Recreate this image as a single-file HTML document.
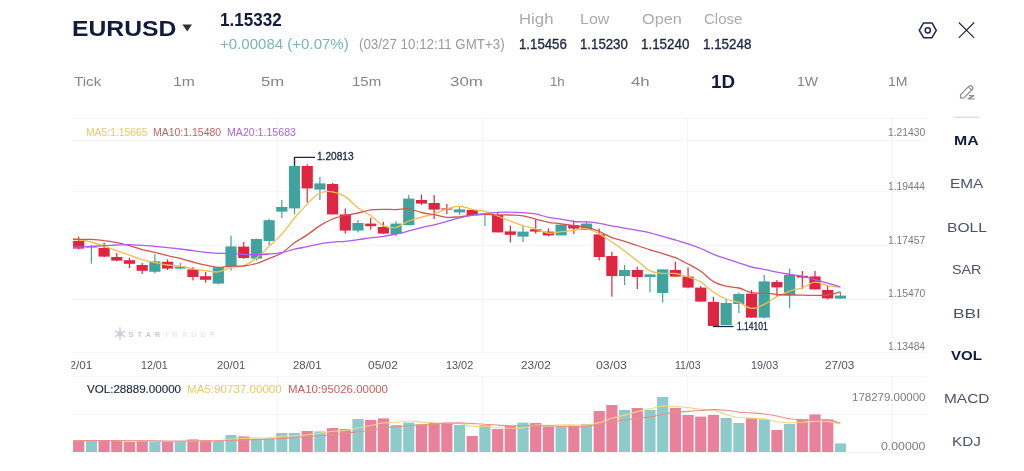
<!DOCTYPE html>
<html lang="en"><head><meta charset="utf-8"><title>EURUSD</title>
<style>
html,body{margin:0;padding:0;background:#fff}
body{width:1024px;height:471px;position:relative;overflow:hidden;font-family:"Liberation Sans",sans-serif}
.t{position:absolute;white-space:nowrap;transform-origin:0 0;margin:0;padding:0}
svg{position:absolute;left:0;top:0}
</style></head><body>

<svg width="1024" height="471" viewBox="0 0 1024 471">
<g stroke="#f5f5f6" stroke-width="1">
<line x1="72" x2="927" y1="118.5" y2="118.5"/>
<line x1="72" x2="927" y1="140.5" y2="140.5"/>
<line x1="72" x2="927" y1="191.5" y2="191.5"/>
<line x1="72" x2="927" y1="245.5" y2="245.5"/>
<line x1="72" x2="927" y1="299.5" y2="299.5"/>
<line x1="72" x2="927" y1="352.5" y2="352.5"/>
<line x1="72" x2="927" y1="376.5" y2="376.5"/>
<line x1="72" x2="927" y1="414.5" y2="414.5"/>
<line x1="72" x2="927" y1="452.5" y2="452.5"/>
<line x1="277.5" x2="277.5" y1="118" y2="352"/>
<line x1="277.5" x2="277.5" y1="376" y2="452"/>
<line x1="482.5" x2="482.5" y1="118" y2="352"/>
<line x1="482.5" x2="482.5" y1="376" y2="452"/>
<line x1="687.5" x2="687.5" y1="118" y2="352"/>
<line x1="687.5" x2="687.5" y1="376" y2="452"/>
<line x1="892.5" x2="892.5" y1="118" y2="352"/>
<line x1="892.5" x2="892.5" y1="376" y2="452"/>
</g>
<rect x="78.10" y="236.6" width="1.2" height="12.8" fill="#DE2640"/>
<rect x="73.10" y="241.0" width="11.2" height="7.6" fill="#DE2640"/>
<rect x="90.80" y="245.0" width="1.2" height="18.6" fill="#40A39D"/>
<rect x="85.80" y="246.4" width="11.2" height="1.2" fill="#40A39D"/>
<rect x="103.49" y="242.6" width="1.2" height="14.4" fill="#DE2640"/>
<rect x="98.49" y="248.0" width="11.2" height="8.6" fill="#DE2640"/>
<rect x="116.19" y="253.0" width="1.2" height="8.0" fill="#DE2640"/>
<rect x="111.19" y="257.0" width="11.2" height="3.6" fill="#DE2640"/>
<rect x="128.88" y="258.0" width="1.2" height="10.0" fill="#DE2640"/>
<rect x="123.88" y="260.2" width="11.2" height="3.6" fill="#DE2640"/>
<rect x="141.58" y="263.0" width="1.2" height="11.0" fill="#DE2640"/>
<rect x="136.58" y="265.0" width="11.2" height="5.8" fill="#DE2640"/>
<rect x="154.27" y="254.0" width="1.2" height="19.4" fill="#40A39D"/>
<rect x="149.27" y="261.4" width="11.2" height="10.4" fill="#40A39D"/>
<rect x="166.97" y="259.4" width="1.2" height="10.6" fill="#DE2640"/>
<rect x="161.97" y="261.8" width="11.2" height="6.8" fill="#DE2640"/>
<rect x="179.66" y="263.0" width="1.2" height="6.4" fill="#40A39D"/>
<rect x="174.66" y="266.6" width="11.2" height="2.0" fill="#40A39D"/>
<rect x="192.35" y="267.0" width="1.2" height="13.4" fill="#DE2640"/>
<rect x="187.35" y="269.4" width="11.2" height="7.6" fill="#DE2640"/>
<rect x="205.05" y="272.0" width="1.2" height="10.6" fill="#DE2640"/>
<rect x="200.05" y="276.2" width="11.2" height="3.6" fill="#DE2640"/>
<rect x="217.75" y="267.4" width="1.2" height="17.0" fill="#40A39D"/>
<rect x="212.75" y="267.4" width="11.2" height="16.2" fill="#40A39D"/>
<rect x="230.44" y="235.6" width="1.2" height="35.0" fill="#40A39D"/>
<rect x="225.44" y="246.4" width="11.2" height="20.2" fill="#40A39D"/>
<rect x="243.14" y="242.0" width="1.2" height="17.0" fill="#DE2640"/>
<rect x="238.14" y="246.6" width="11.2" height="11.4" fill="#DE2640"/>
<rect x="255.83" y="238.6" width="1.2" height="22.0" fill="#40A39D"/>
<rect x="250.83" y="239.0" width="11.2" height="19.6" fill="#40A39D"/>
<rect x="268.52" y="218.8" width="1.2" height="26.2" fill="#40A39D"/>
<rect x="263.52" y="220.2" width="11.2" height="20.8" fill="#40A39D"/>
<rect x="281.22" y="200.0" width="1.2" height="18.0" fill="#40A39D"/>
<rect x="276.22" y="207.0" width="11.2" height="4.6" fill="#40A39D"/>
<rect x="293.91" y="157.0" width="1.2" height="57.4" fill="#40A39D"/>
<rect x="288.91" y="166.0" width="11.2" height="42.4" fill="#40A39D"/>
<rect x="306.61" y="164.4" width="1.2" height="38.0" fill="#DE2640"/>
<rect x="301.61" y="166.0" width="11.2" height="22.4" fill="#DE2640"/>
<rect x="319.31" y="177.0" width="1.2" height="23.0" fill="#40A39D"/>
<rect x="314.31" y="183.4" width="11.2" height="6.2" fill="#40A39D"/>
<rect x="332.00" y="183.0" width="1.2" height="31.4" fill="#DE2640"/>
<rect x="327.00" y="184.0" width="11.2" height="30.4" fill="#DE2640"/>
<rect x="344.69" y="208.4" width="1.2" height="25.2" fill="#DE2640"/>
<rect x="339.69" y="214.4" width="11.2" height="16.2" fill="#DE2640"/>
<rect x="357.39" y="220.0" width="1.2" height="12.4" fill="#40A39D"/>
<rect x="352.39" y="223.0" width="11.2" height="7.6" fill="#40A39D"/>
<rect x="370.08" y="218.0" width="1.2" height="11.6" fill="#DE2640"/>
<rect x="365.08" y="223.6" width="11.2" height="2.6" fill="#DE2640"/>
<rect x="382.78" y="222.0" width="1.2" height="12.0" fill="#DE2640"/>
<rect x="377.78" y="227.0" width="11.2" height="6.6" fill="#DE2640"/>
<rect x="395.47" y="221.0" width="1.2" height="15.0" fill="#40A39D"/>
<rect x="390.47" y="223.6" width="11.2" height="10.4" fill="#40A39D"/>
<rect x="408.17" y="195.0" width="1.2" height="30.2" fill="#40A39D"/>
<rect x="403.17" y="198.6" width="11.2" height="26.6" fill="#40A39D"/>
<rect x="420.86" y="194.4" width="1.2" height="10.6" fill="#DE2640"/>
<rect x="415.86" y="200.0" width="11.2" height="3.6" fill="#DE2640"/>
<rect x="433.56" y="195.0" width="1.2" height="24.0" fill="#DE2640"/>
<rect x="428.56" y="203.0" width="11.2" height="6.6" fill="#DE2640"/>
<rect x="446.25" y="204.0" width="1.2" height="10.0" fill="#DE2640"/>
<rect x="441.25" y="208.4" width="11.2" height="1.2" fill="#DE2640"/>
<rect x="458.95" y="207.0" width="1.2" height="8.0" fill="#40A39D"/>
<rect x="453.95" y="209.4" width="11.2" height="3.0" fill="#40A39D"/>
<rect x="471.64" y="209.0" width="1.2" height="6.0" fill="#DE2640"/>
<rect x="466.64" y="210.0" width="11.2" height="5.0" fill="#DE2640"/>
<rect x="484.34" y="213.6" width="1.2" height="12.4" fill="#40A39D"/>
<rect x="479.34" y="213.6" width="11.2" height="1.0" fill="#40A39D"/>
<rect x="497.03" y="213.0" width="1.2" height="19.4" fill="#DE2640"/>
<rect x="492.03" y="215.0" width="11.2" height="17.4" fill="#DE2640"/>
<rect x="509.73" y="225.6" width="1.2" height="16.8" fill="#DE2640"/>
<rect x="504.73" y="231.4" width="11.2" height="3.4" fill="#DE2640"/>
<rect x="522.42" y="226.0" width="1.2" height="16.0" fill="#40A39D"/>
<rect x="517.42" y="231.6" width="11.2" height="5.0" fill="#40A39D"/>
<rect x="535.12" y="219.6" width="1.2" height="14.0" fill="#DE2640"/>
<rect x="530.12" y="229.2" width="11.2" height="2.4" fill="#DE2640"/>
<rect x="547.82" y="228.4" width="1.2" height="8.0" fill="#DE2640"/>
<rect x="542.82" y="231.6" width="11.2" height="3.8" fill="#DE2640"/>
<rect x="560.51" y="224.6" width="1.2" height="10.8" fill="#40A39D"/>
<rect x="555.51" y="224.6" width="11.2" height="10.8" fill="#40A39D"/>
<rect x="573.21" y="220.4" width="1.2" height="13.6" fill="#DE2640"/>
<rect x="568.21" y="225.0" width="11.2" height="3.6" fill="#DE2640"/>
<rect x="585.90" y="221.0" width="1.2" height="9.0" fill="#40A39D"/>
<rect x="580.90" y="223.6" width="11.2" height="6.4" fill="#40A39D"/>
<rect x="598.60" y="228.6" width="1.2" height="31.8" fill="#DE2640"/>
<rect x="593.60" y="234.4" width="11.2" height="22.6" fill="#DE2640"/>
<rect x="611.29" y="251.6" width="1.2" height="45.0" fill="#DE2640"/>
<rect x="606.29" y="256.0" width="11.2" height="20.0" fill="#DE2640"/>
<rect x="623.99" y="265.0" width="1.2" height="20.0" fill="#40A39D"/>
<rect x="618.99" y="270.0" width="11.2" height="6.0" fill="#40A39D"/>
<rect x="636.68" y="266.6" width="1.2" height="22.4" fill="#DE2640"/>
<rect x="631.68" y="270.0" width="11.2" height="7.0" fill="#DE2640"/>
<rect x="649.38" y="274.4" width="1.2" height="18.0" fill="#40A39D"/>
<rect x="644.38" y="274.4" width="11.2" height="2.6" fill="#40A39D"/>
<rect x="662.07" y="269.4" width="1.2" height="33.0" fill="#40A39D"/>
<rect x="657.07" y="269.4" width="11.2" height="23.6" fill="#40A39D"/>
<rect x="674.76" y="261.6" width="1.2" height="15.0" fill="#DE2640"/>
<rect x="669.76" y="270.0" width="11.2" height="6.6" fill="#DE2640"/>
<rect x="687.46" y="267.4" width="1.2" height="21.0" fill="#DE2640"/>
<rect x="682.46" y="276.6" width="11.2" height="11.0" fill="#DE2640"/>
<rect x="700.16" y="286.0" width="1.2" height="15.6" fill="#DE2640"/>
<rect x="695.16" y="287.6" width="11.2" height="14.0" fill="#DE2640"/>
<rect x="712.85" y="297.0" width="1.2" height="29.4" fill="#DE2640"/>
<rect x="707.85" y="302.0" width="11.2" height="24.0" fill="#DE2640"/>
<rect x="725.55" y="299.0" width="1.2" height="26.0" fill="#40A39D"/>
<rect x="720.55" y="303.0" width="11.2" height="22.0" fill="#40A39D"/>
<rect x="738.24" y="292.4" width="1.2" height="20.6" fill="#40A39D"/>
<rect x="733.24" y="294.0" width="11.2" height="10.0" fill="#40A39D"/>
<rect x="750.94" y="290.0" width="1.2" height="27.6" fill="#DE2640"/>
<rect x="745.94" y="293.6" width="11.2" height="24.0" fill="#DE2640"/>
<rect x="763.63" y="275.0" width="1.2" height="43.4" fill="#40A39D"/>
<rect x="758.63" y="281.4" width="11.2" height="36.2" fill="#40A39D"/>
<rect x="776.33" y="280.0" width="1.2" height="17.0" fill="#DE2640"/>
<rect x="771.33" y="282.0" width="11.2" height="5.4" fill="#DE2640"/>
<rect x="789.02" y="268.6" width="1.2" height="39.8" fill="#40A39D"/>
<rect x="784.02" y="275.0" width="11.2" height="20.0" fill="#40A39D"/>
<rect x="801.72" y="271.0" width="1.2" height="18.0" fill="#DE2640"/>
<rect x="796.72" y="275.8" width="11.2" height="1.8" fill="#DE2640"/>
<rect x="814.41" y="271.0" width="1.2" height="18.4" fill="#DE2640"/>
<rect x="809.41" y="276.4" width="11.2" height="13.0" fill="#DE2640"/>
<rect x="827.11" y="286.0" width="1.2" height="13.4" fill="#DE2640"/>
<rect x="822.11" y="290.0" width="11.2" height="8.4" fill="#DE2640"/>
<rect x="839.80" y="292.0" width="1.2" height="6.6" fill="#40A39D"/>
<rect x="834.80" y="295.6" width="11.2" height="3.0" fill="#40A39D"/>
<path d="M73.0 238.4C74.0 238.6 75.6 238.9 78.7 239.5C81.8 240.1 87.2 240.9 91.4 242.0C95.6 243.1 99.9 244.7 104.1 246.1C108.3 247.6 112.6 249.1 116.8 250.6C121.0 252.2 125.2 253.7 129.5 255.2C133.7 256.7 137.9 258.4 142.2 259.6C146.4 260.9 150.6 261.7 154.9 262.6C159.1 263.5 163.3 264.4 167.6 265.0C171.8 265.6 176.0 265.6 180.3 266.2C184.5 266.9 188.7 268.1 193.0 268.9C197.2 269.6 201.4 270.2 205.7 270.7C209.9 271.2 214.1 272.4 218.3 271.9C222.6 271.3 226.8 268.5 231.0 267.4C235.3 266.4 239.5 267.3 243.7 265.7C248.0 264.2 252.2 261.4 256.4 258.1C260.7 254.9 264.9 250.2 269.1 246.2C273.4 242.2 277.6 238.8 281.8 234.1C286.1 229.4 290.3 223.0 294.5 218.0C298.7 213.0 303.0 208.3 307.2 204.1C311.4 199.9 315.7 195.0 319.9 193.0C324.1 191.0 328.4 191.2 332.6 191.8C336.8 192.4 341.1 193.9 345.3 196.6C349.5 199.2 353.8 204.8 358.0 208.0C362.2 211.1 366.5 212.6 370.7 215.5C374.9 218.5 379.1 223.6 383.4 225.6C387.6 227.5 391.8 228.2 396.1 227.4C400.3 226.6 404.5 222.7 408.8 221.0C413.0 219.3 417.2 218.3 421.5 217.1C425.7 215.9 429.9 215.2 434.2 213.8C438.4 212.4 442.6 210.3 446.9 209.0C451.1 207.7 455.3 206.1 459.6 206.2C463.8 206.2 468.0 208.6 472.2 209.4C476.5 210.3 480.7 210.3 484.9 211.4C489.2 212.5 493.4 214.4 497.6 216.0C501.9 217.6 506.1 219.5 510.3 221.0C514.6 222.6 518.8 224.2 523.0 225.5C527.3 226.8 531.5 227.5 535.7 228.8C540.0 230.1 544.2 232.7 548.4 233.2C552.6 233.6 556.9 232.1 561.1 231.6C565.3 231.1 569.6 230.8 573.8 230.4C578.0 229.9 582.3 228.2 586.5 228.8C590.7 229.3 595.0 231.6 599.2 233.8C603.4 236.0 607.7 239.1 611.9 242.0C616.1 244.8 620.4 247.9 624.6 251.0C628.8 254.2 633.0 257.4 637.3 260.7C641.5 264.0 645.7 268.8 650.0 270.9C654.2 273.0 658.4 272.9 662.7 273.4C666.9 273.8 671.1 272.9 675.4 273.5C679.6 274.1 683.8 275.6 688.1 277.0C692.3 278.4 696.5 279.4 700.8 281.9C705.0 284.5 709.2 289.4 713.5 292.2C717.7 295.1 721.9 297.3 726.1 299.0C730.4 300.7 734.6 300.9 738.8 302.4C743.1 304.0 747.3 308.1 751.5 308.4C755.8 308.8 760.0 306.4 764.2 304.4C768.5 302.4 772.7 298.9 776.9 296.7C781.2 294.5 785.4 292.6 789.6 291.1C793.9 289.6 798.1 289.3 802.3 287.8C806.5 286.3 810.8 282.5 815.0 282.2C819.2 281.8 823.5 284.7 827.7 285.6C831.9 286.4 838.3 286.9 840.4 287.2" fill="none" stroke="#F3BE4B" stroke-width="1.3" stroke-linejoin="round"/>
<path d="M73.0 239.5C74.0 239.5 75.6 239.5 78.7 239.5C81.8 239.4 87.2 239.2 91.4 239.4C95.6 239.6 99.9 240.0 104.1 240.6C108.3 241.1 112.6 241.8 116.8 242.6C121.0 243.5 125.2 244.4 129.5 245.6C133.7 246.8 137.9 248.5 142.2 249.6C146.4 250.7 150.6 251.3 154.9 252.3C159.1 253.3 163.3 254.6 167.6 255.6C171.8 256.6 176.0 257.4 180.3 258.4C184.5 259.5 188.7 260.9 193.0 262.0C197.2 263.2 201.4 264.3 205.7 265.2C209.9 266.0 214.1 267.1 218.3 267.3C222.6 267.4 226.8 266.5 231.0 266.2C235.3 266.0 239.5 266.4 243.7 266.0C248.0 265.5 252.2 264.8 256.4 263.5C260.7 262.2 264.9 260.2 269.1 258.4C273.4 256.7 277.6 255.6 281.8 253.0C286.1 250.4 290.3 245.8 294.5 242.7C298.7 239.7 303.0 237.8 307.2 234.9C311.4 232.1 315.7 228.2 319.9 225.6C324.1 222.9 328.4 220.7 332.6 219.0C336.8 217.3 341.1 216.3 345.3 215.3C349.5 214.3 353.8 213.9 358.0 213.0C362.2 212.1 366.5 210.4 370.7 209.8C374.9 209.2 379.1 209.3 383.4 209.3C387.6 209.2 391.8 209.7 396.1 209.6C400.3 209.5 404.5 208.3 408.8 208.8C413.0 209.3 417.2 211.6 421.5 212.5C425.7 213.5 429.9 213.9 434.2 214.7C438.4 215.4 442.6 216.9 446.9 217.3C451.1 217.6 455.3 217.1 459.6 216.8C463.8 216.4 468.0 215.6 472.2 215.2C476.5 214.8 480.7 214.3 484.9 214.3C489.2 214.2 493.4 214.8 497.6 214.9C501.9 215.0 506.1 214.9 510.3 215.0C514.6 215.2 518.8 215.1 523.0 215.8C527.3 216.5 531.5 218.0 535.7 219.1C540.0 220.2 544.2 221.5 548.4 222.3C552.6 223.1 556.9 223.2 561.1 223.8C565.3 224.4 569.6 225.1 573.8 225.7C578.0 226.3 582.3 226.2 586.5 227.1C590.7 228.1 595.0 229.6 599.2 231.3C603.4 233.1 607.7 235.9 611.9 237.6C616.1 239.2 620.4 240.0 624.6 241.3C628.8 242.6 633.0 244.1 637.3 245.5C641.5 247.0 645.7 248.5 650.0 249.8C654.2 251.2 658.4 252.3 662.7 253.6C666.9 254.9 671.1 256.0 675.4 257.7C679.6 259.5 683.8 261.8 688.1 264.0C692.3 266.3 696.5 268.4 700.8 271.3C705.0 274.2 709.2 279.1 713.5 281.6C717.7 284.0 721.9 285.1 726.1 286.2C730.4 287.2 734.6 286.9 738.8 288.0C743.1 289.1 747.3 291.9 751.5 292.7C755.8 293.6 760.0 292.9 764.2 293.2C768.5 293.4 772.7 294.1 776.9 294.5C781.2 294.8 785.4 294.9 789.6 295.0C793.9 295.1 798.1 295.1 802.3 295.1C806.5 295.2 810.8 295.3 815.0 295.3C819.2 295.3 823.5 295.5 827.7 295.0C831.9 294.4 838.3 292.4 840.4 291.9" fill="none" stroke="#D2554F" stroke-width="1.3" stroke-linejoin="round"/>
<path d="M73.0 247.3C74.0 247.2 75.6 247.1 78.7 247.0C81.8 246.9 87.2 246.6 91.4 246.4C95.6 246.2 99.9 245.8 104.1 245.6C108.3 245.4 112.6 245.2 116.8 245.0C121.0 244.8 125.2 244.5 129.5 244.6C133.7 244.7 137.9 245.1 142.2 245.4C146.4 245.7 150.6 246.0 154.9 246.4C159.1 246.8 163.3 247.2 167.6 247.6C171.8 248.0 176.0 248.5 180.3 249.0C184.5 249.5 188.7 250.0 193.0 250.6C197.2 251.2 201.4 251.9 205.7 252.3C209.9 252.8 214.1 253.1 218.3 253.3C222.6 253.5 226.8 253.2 231.0 253.4C235.3 253.6 239.5 254.1 243.7 254.3C248.0 254.5 252.2 254.6 256.4 254.6C260.7 254.5 264.9 254.3 269.1 254.0C273.4 253.7 277.6 253.5 281.8 252.7C286.1 251.9 290.3 250.2 294.5 249.2C298.7 248.2 303.0 247.6 307.2 246.7C311.4 245.8 315.7 244.6 319.9 243.8C324.1 243.0 328.4 242.5 332.6 242.1C336.8 241.7 341.1 241.7 345.3 241.3C349.5 240.9 353.8 240.2 358.0 239.6C362.2 239.1 366.5 238.4 370.7 237.9C374.9 237.4 379.1 237.0 383.4 236.4C387.6 235.7 391.8 234.9 396.1 234.0C400.3 233.1 404.5 232.0 408.8 230.9C413.0 229.8 417.2 228.7 421.5 227.6C425.7 226.6 429.9 225.8 434.2 224.8C438.4 223.8 442.6 222.6 446.9 221.4C451.1 220.3 455.3 218.9 459.6 217.9C463.8 216.9 468.0 216.0 472.2 215.3C476.5 214.6 480.7 214.1 484.9 213.6C489.2 213.2 493.4 212.6 497.6 212.4C501.9 212.1 506.1 212.1 510.3 212.2C514.6 212.2 518.8 212.4 523.0 212.7C527.3 213.0 531.5 213.2 535.7 213.9C540.0 214.7 544.2 216.5 548.4 217.4C552.6 218.3 556.9 218.6 561.1 219.2C565.3 219.9 569.6 221.0 573.8 221.5C578.0 221.9 582.3 221.7 586.5 221.9C590.7 222.2 595.0 222.6 599.2 223.3C603.4 223.9 607.7 225.1 611.9 225.9C616.1 226.7 620.4 227.4 624.6 228.1C628.8 228.8 633.0 229.5 637.3 230.3C641.5 231.1 645.7 231.8 650.0 232.8C654.2 233.8 658.4 235.2 662.7 236.4C666.9 237.6 671.1 238.8 675.4 240.0C679.6 241.3 683.8 242.5 688.1 243.9C692.3 245.3 696.5 246.8 700.8 248.5C705.0 250.2 709.2 252.6 713.5 254.3C717.7 256.0 721.9 257.3 726.1 258.7C730.4 260.1 734.6 261.4 738.8 262.8C743.1 264.1 747.3 265.9 751.5 267.0C755.8 268.1 760.0 268.5 764.2 269.4C768.5 270.2 772.7 271.3 776.9 272.1C781.2 273.0 785.4 273.6 789.6 274.3C793.9 275.0 798.1 275.5 802.3 276.4C806.5 277.3 810.8 278.5 815.0 279.7C819.2 280.8 823.5 282.0 827.7 283.1C831.9 284.3 838.3 286.1 840.4 286.8" fill="none" stroke="#B05AEE" stroke-width="1.3" stroke-linejoin="round"/>
<path d="M294.5 166V157.3H315" fill="none" stroke="#1c2542" stroke-width="1.3"/>
<path d="M713.0 326.5H733.5" fill="none" stroke="#1c2542" stroke-width="1.3"/>
<rect x="73.10" y="441.0" width="11.2" height="11.0" fill="#E9819B"/>
<rect x="85.80" y="440.0" width="11.2" height="12.0" fill="#8DCBCB"/>
<rect x="98.49" y="440.6" width="11.2" height="11.4" fill="#E9819B"/>
<rect x="111.19" y="441.0" width="11.2" height="11.0" fill="#E9819B"/>
<rect x="123.88" y="442.0" width="11.2" height="10.0" fill="#E9819B"/>
<rect x="136.58" y="441.0" width="11.2" height="11.0" fill="#E9819B"/>
<rect x="149.27" y="442.0" width="11.2" height="10.0" fill="#8DCBCB"/>
<rect x="161.97" y="441.4" width="11.2" height="10.6" fill="#E9819B"/>
<rect x="174.66" y="441.4" width="11.2" height="10.6" fill="#8DCBCB"/>
<rect x="187.35" y="439.4" width="11.2" height="12.6" fill="#E9819B"/>
<rect x="200.05" y="440.0" width="11.2" height="12.0" fill="#E9819B"/>
<rect x="212.75" y="440.6" width="11.2" height="11.4" fill="#8DCBCB"/>
<rect x="225.44" y="435.0" width="11.2" height="17.0" fill="#8DCBCB"/>
<rect x="238.14" y="436.4" width="11.2" height="15.6" fill="#E9819B"/>
<rect x="250.83" y="438.6" width="11.2" height="13.4" fill="#8DCBCB"/>
<rect x="263.52" y="438.3" width="11.2" height="13.7" fill="#8DCBCB"/>
<rect x="276.22" y="433.0" width="11.2" height="19.0" fill="#8DCBCB"/>
<rect x="288.91" y="433.0" width="11.2" height="19.0" fill="#8DCBCB"/>
<rect x="301.61" y="431.0" width="11.2" height="21.0" fill="#E9819B"/>
<rect x="314.31" y="431.4" width="11.2" height="20.6" fill="#8DCBCB"/>
<rect x="327.00" y="428.0" width="11.2" height="24.0" fill="#E9819B"/>
<rect x="339.69" y="429.0" width="11.2" height="23.0" fill="#E9819B"/>
<rect x="352.39" y="419.0" width="11.2" height="33.0" fill="#8DCBCB"/>
<rect x="365.08" y="420.0" width="11.2" height="32.0" fill="#E9819B"/>
<rect x="377.78" y="418.4" width="11.2" height="33.6" fill="#E9819B"/>
<rect x="390.47" y="425.0" width="11.2" height="27.0" fill="#8DCBCB"/>
<rect x="403.17" y="422.6" width="11.2" height="29.4" fill="#8DCBCB"/>
<rect x="415.86" y="424.4" width="11.2" height="27.6" fill="#E9819B"/>
<rect x="428.56" y="423.0" width="11.2" height="29.0" fill="#E9819B"/>
<rect x="441.25" y="422.6" width="11.2" height="29.4" fill="#E9819B"/>
<rect x="453.95" y="425.0" width="11.2" height="27.0" fill="#8DCBCB"/>
<rect x="466.64" y="436.0" width="11.2" height="16.0" fill="#E9819B"/>
<rect x="479.34" y="425.0" width="11.2" height="27.0" fill="#8DCBCB"/>
<rect x="492.03" y="429.0" width="11.2" height="23.0" fill="#E9819B"/>
<rect x="504.73" y="426.0" width="11.2" height="26.0" fill="#E9819B"/>
<rect x="517.42" y="422.6" width="11.2" height="29.4" fill="#8DCBCB"/>
<rect x="530.12" y="423.0" width="11.2" height="29.0" fill="#E9819B"/>
<rect x="542.82" y="426.6" width="11.2" height="25.4" fill="#E9819B"/>
<rect x="555.51" y="426.0" width="11.2" height="26.0" fill="#8DCBCB"/>
<rect x="568.21" y="425.6" width="11.2" height="26.4" fill="#E9819B"/>
<rect x="580.90" y="424.0" width="11.2" height="28.0" fill="#8DCBCB"/>
<rect x="593.60" y="411.0" width="11.2" height="41.0" fill="#E9819B"/>
<rect x="606.29" y="405.0" width="11.2" height="47.0" fill="#E9819B"/>
<rect x="618.99" y="410.0" width="11.2" height="42.0" fill="#8DCBCB"/>
<rect x="631.68" y="408.0" width="11.2" height="44.0" fill="#E9819B"/>
<rect x="644.38" y="410.0" width="11.2" height="42.0" fill="#8DCBCB"/>
<rect x="657.07" y="397.0" width="11.2" height="55.0" fill="#8DCBCB"/>
<rect x="669.76" y="408.0" width="11.2" height="44.0" fill="#E9819B"/>
<rect x="682.46" y="415.0" width="11.2" height="37.0" fill="#E9819B"/>
<rect x="695.16" y="416.6" width="11.2" height="35.4" fill="#E9819B"/>
<rect x="707.85" y="415.0" width="11.2" height="37.0" fill="#E9819B"/>
<rect x="720.55" y="418.0" width="11.2" height="34.0" fill="#8DCBCB"/>
<rect x="733.24" y="423.0" width="11.2" height="29.0" fill="#8DCBCB"/>
<rect x="745.94" y="418.0" width="11.2" height="34.0" fill="#E9819B"/>
<rect x="758.63" y="419.4" width="11.2" height="32.6" fill="#8DCBCB"/>
<rect x="771.33" y="430.0" width="11.2" height="22.0" fill="#E9819B"/>
<rect x="784.02" y="424.0" width="11.2" height="28.0" fill="#8DCBCB"/>
<rect x="796.72" y="419.4" width="11.2" height="32.6" fill="#E9819B"/>
<rect x="809.41" y="414.4" width="11.2" height="37.6" fill="#E9819B"/>
<rect x="822.11" y="419.4" width="11.2" height="32.6" fill="#E9819B"/>
<rect x="834.80" y="443.4" width="11.2" height="8.6" fill="#8DCBCB"/>
<path d="M73.0 440.6C74.0 440.6 75.6 440.6 78.7 440.6C81.8 440.6 87.2 440.5 91.4 440.5C95.6 440.5 99.9 440.5 104.1 440.5C108.3 440.5 112.6 440.6 116.8 440.6C121.0 440.7 125.2 440.9 129.5 440.9C133.7 441.0 137.9 440.9 142.2 440.9C146.4 441.0 150.6 441.2 154.9 441.3C159.1 441.4 163.3 441.4 167.6 441.5C171.8 441.5 176.0 441.6 180.3 441.6C184.5 441.5 188.7 441.2 193.0 441.0C197.2 440.9 201.4 440.9 205.7 440.8C209.9 440.8 214.1 440.8 218.3 440.6C222.6 440.3 226.8 439.7 231.0 439.3C235.3 438.9 239.5 438.5 243.7 438.3C248.0 438.1 252.2 438.2 256.4 438.1C260.7 438.0 264.9 438.1 269.1 437.8C273.4 437.5 277.6 436.6 281.8 436.3C286.1 435.9 290.3 436.1 294.5 435.9C298.7 435.6 303.0 435.2 307.2 434.8C311.4 434.4 315.7 433.9 319.9 433.3C324.1 432.8 328.4 431.8 332.6 431.3C336.8 430.8 341.1 431.1 345.3 430.5C349.5 429.9 353.8 428.5 358.0 427.7C362.2 426.8 366.5 426.3 370.7 425.5C374.9 424.7 379.1 423.4 383.4 422.9C387.6 422.3 391.8 422.6 396.1 422.3C400.3 422.0 404.5 421.0 408.8 421.0C413.0 421.0 417.2 421.8 421.5 422.1C425.7 422.4 429.9 422.4 434.2 422.7C438.4 422.9 442.6 423.4 446.9 423.5C451.1 423.7 455.3 423.1 459.6 423.5C463.8 424.0 468.0 425.7 472.2 426.2C476.5 426.7 480.7 426.1 484.9 426.3C489.2 426.5 493.4 427.2 497.6 427.5C501.9 427.8 506.1 428.2 510.3 428.2C514.6 428.2 518.8 428.2 523.0 427.7C527.3 427.2 531.5 425.5 535.7 425.1C540.0 424.7 544.2 425.5 548.4 425.4C552.6 425.4 556.9 425.0 561.1 424.8C565.3 424.7 569.6 424.7 573.8 424.8C578.0 424.8 582.3 425.4 586.5 425.0C590.7 424.7 595.0 423.8 599.2 422.6C603.4 421.5 607.7 419.6 611.9 418.3C616.1 417.1 620.4 416.2 624.6 415.1C628.8 414.0 633.0 412.7 637.3 411.6C641.5 410.5 645.7 409.7 650.0 408.8C654.2 407.9 658.4 406.4 662.7 406.0C666.9 405.6 671.1 406.3 675.4 406.6C679.6 406.9 683.8 407.1 688.1 407.6C692.3 408.1 696.5 408.9 700.8 409.3C705.0 409.8 709.2 409.5 713.5 410.3C717.7 411.2 721.9 413.3 726.1 414.5C730.4 415.7 734.6 416.9 738.8 417.5C743.1 418.1 747.3 417.9 751.5 418.1C755.8 418.3 760.0 418.1 764.2 418.7C768.5 419.3 772.7 421.0 776.9 421.7C781.2 422.4 785.4 422.8 789.6 422.9C793.9 423.0 798.1 422.4 802.3 422.2C806.5 421.9 810.8 421.6 815.0 421.4C819.2 421.3 823.5 421.0 827.7 421.4C831.9 421.9 838.3 423.7 840.4 424.1" fill="none" stroke="#F5D588" stroke-width="1.1" stroke-linejoin="round"/>
<path d="M73.0 440.6C74.0 440.6 75.6 440.6 78.7 440.6C81.8 440.5 87.2 440.5 91.4 440.5C95.6 440.5 99.9 440.5 104.1 440.5C108.3 440.5 112.6 440.5 116.8 440.6C121.0 440.6 125.2 440.7 129.5 440.7C133.7 440.7 137.9 440.7 142.2 440.8C146.4 440.8 150.6 440.9 154.9 440.9C159.1 441.0 163.3 441.0 167.6 441.0C171.8 441.0 176.0 441.1 180.3 441.1C184.5 441.1 188.7 441.0 193.0 441.0C197.2 440.9 201.4 440.9 205.7 440.9C209.9 440.9 214.1 441.0 218.3 440.9C222.6 440.9 226.8 440.6 231.0 440.4C235.3 440.2 239.5 440.1 243.7 439.9C248.0 439.8 252.2 439.7 256.4 439.6C260.7 439.5 264.9 439.5 269.1 439.3C273.4 439.1 277.6 438.7 281.8 438.4C286.1 438.1 290.3 437.9 294.5 437.6C298.7 437.3 303.0 436.8 307.2 436.5C311.4 436.2 315.7 436.1 319.9 435.7C324.1 435.4 328.4 434.9 332.6 434.5C336.8 434.1 341.1 433.8 345.3 433.4C349.5 432.9 353.8 432.3 358.0 431.8C362.2 431.2 366.5 430.7 370.7 430.1C374.9 429.5 379.1 428.7 383.4 428.1C387.6 427.6 391.8 427.2 396.1 426.8C400.3 426.4 404.5 426.1 408.8 425.7C413.0 425.4 417.2 425.2 421.5 424.9C425.7 424.6 429.9 424.4 434.2 424.1C438.4 423.8 442.6 423.4 446.9 423.2C451.1 423.0 455.3 422.8 459.6 422.9C463.8 423.0 468.0 423.4 472.2 423.6C476.5 423.8 480.7 423.9 484.9 424.2C489.2 424.4 493.4 424.8 497.6 425.1C501.9 425.4 506.1 425.8 510.3 425.9C514.6 425.9 518.8 425.7 523.0 425.6C527.3 425.6 531.5 425.6 535.7 425.7C540.0 425.7 544.2 425.8 548.4 425.9C552.6 426.0 556.9 426.1 561.1 426.2C565.3 426.3 569.6 426.4 573.8 426.5C578.0 426.5 582.3 426.8 586.5 426.4C590.7 425.9 595.0 424.6 599.2 423.9C603.4 423.1 607.7 422.5 611.9 421.9C616.1 421.2 620.4 420.6 624.6 420.0C628.8 419.4 633.0 418.7 637.3 418.2C641.5 417.7 645.7 417.6 650.0 416.9C654.2 416.3 658.4 415.1 662.7 414.3C666.9 413.6 671.1 413.0 675.4 412.5C679.6 412.0 683.8 411.7 688.1 411.4C692.3 411.0 696.5 410.8 700.8 410.5C705.0 410.2 709.2 409.6 713.5 409.6C717.7 409.5 721.9 409.8 726.1 410.3C730.4 410.7 734.6 411.6 738.8 412.1C743.1 412.5 747.3 412.5 751.5 412.9C755.8 413.2 760.0 413.5 764.2 414.0C768.5 414.5 772.7 415.2 776.9 416.0C781.2 416.8 785.4 418.1 789.6 418.7C793.9 419.3 798.1 419.7 802.3 419.8C806.5 420.0 810.8 419.7 815.0 419.8C819.2 419.8 823.5 419.5 827.7 420.1C831.9 420.6 838.3 422.4 840.4 422.9" fill="none" stroke="#E4918A" stroke-width="1.1" stroke-linejoin="round"/>

<g fill="#bcc3cd"><circle cx="120" cy="333.8" r="2.7"/><g stroke="#cdd2da" stroke-width="1.4" stroke-linecap="round"><path d="M120 327.8v12M115.2 331l9.6 5.6M115.2 336.6l9.6-5.6"/></g></g>
<text x="128.6" y="336.8" font-size="7.6" font-weight="700" fill="#c6cad2" textLength="31.7" lengthAdjust="spacing">STAR</text>
<text x="164" y="336.8" font-size="7.6" fill="#dfe1e6" textLength="51" lengthAdjust="spacing">TRADER</text>
<g fill="none" stroke="#1c2542" stroke-width="1.5" stroke-linejoin="round"><path d="M923.6 22.9h8.4l4.3 7.4-4.3 7.4h-8.4l-4.3-7.4z"/><circle cx="927.8" cy="30.3" r="2.6"/></g>
<path d="M958.8 22.5l15.4 15.4M974.2 22.5l-15.4 15.4" stroke="#1c2542" stroke-width="1.1" fill="none"/>
<path d="M953.8 117.2H979.2" stroke="#c9ccd2" stroke-width="1"/>
<g fill="none" stroke="#8b909c" stroke-width="1.3" stroke-linejoin="round" stroke-linecap="round"><path d="M960.6 98.2v-3.6l8.2-8.2a2.3 2.3 0 0 1 3.3 3.3l-8.2 8.2z"/><path d="M968.6 87.2l3.2 3.2" stroke-width="1.1"/><path d="M969.4 95.6H974L968 98.9H974" stroke-width="1.3"/></g>
<path d="M182.4 24.6h9.6l-4.8 7z" fill="#2f3136"/>
</svg>

<div class="t" id="t0" style="left:72.35px;top:15px;font-size:22.5px;line-height:27px;font-weight:700;color:#111b3b;transform:scaleX(1.0984)">EURUSD</div>
<div class="t" id="t1" style="left:220.02px;top:10px;font-size:17.5px;line-height:21px;font-weight:700;color:#111b3b;transform:scaleX(0.9756)">1.15332</div>
<div class="t" id="t2" style="left:220.19px;top:36px;font-size:14px;line-height:17px;font-weight:400;color:#78baa8;transform:scaleX(1.0740)">+0.00084 (+0.07%)</div>
<div class="t" id="t3" style="left:358.74px;top:36px;font-size:14px;line-height:17px;font-weight:400;color:#9a9a9e;transform:scaleX(0.9539)">(03/27 10:12:11 GMT+3)</div>
<div class="t" id="t4" style="left:518.50px;top:11px;font-size:14px;line-height:17px;font-weight:400;color:#a9abb0;transform:scaleX(1.1963)">High</div>
<div class="t" id="t5" style="left:518.56px;top:36px;font-size:14px;line-height:17px;font-weight:400;color:#1e2742;transform:scaleX(0.9442);-webkit-text-stroke:0.35px #1e2742">1.15456</div>
<div class="t" id="t6" style="left:579.57px;top:11px;font-size:14px;line-height:17px;font-weight:400;color:#a9abb0;transform:scaleX(1.1429)">Low</div>
<div class="t" id="t7" style="left:579.56px;top:36px;font-size:14px;line-height:17px;font-weight:400;color:#1e2742;transform:scaleX(0.9442);-webkit-text-stroke:0.35px #1e2742">1.15230</div>
<div class="t" id="t8" style="left:641.70px;top:11px;font-size:14px;line-height:17px;font-weight:400;color:#a9abb0;transform:scaleX(1.1603)">Open</div>
<div class="t" id="t9" style="left:641.09px;top:36px;font-size:14px;line-height:17px;font-weight:400;color:#1e2742;transform:scaleX(0.9563);-webkit-text-stroke:0.35px #1e2742">1.15240</div>
<div class="t" id="t10" style="left:703.76px;top:11px;font-size:14px;line-height:17px;font-weight:400;color:#a9abb0;transform:scaleX(1.0725)">Close</div>
<div class="t" id="t11" style="left:703.09px;top:36px;font-size:14px;line-height:17px;font-weight:400;color:#1e2742;transform:scaleX(0.9563);-webkit-text-stroke:0.35px #1e2742">1.15248</div>
<div class="t" id="t12" style="left:73.72px;top:74px;font-size:13.5px;line-height:16px;font-weight:400;color:#858589;transform:scaleX(1.1250)">Tick</div>
<div class="t" id="t13" style="left:173.34px;top:74px;font-size:13.5px;line-height:16px;font-weight:400;color:#858589;transform:scaleX(1.1642)">1m</div>
<div class="t" id="t14" style="left:260.79px;top:74px;font-size:13.5px;line-height:16px;font-weight:400;color:#858589;transform:scaleX(1.2406)">5m</div>
<div class="t" id="t15" style="left:351.89px;top:74px;font-size:13.5px;line-height:16px;font-weight:400;color:#858589;transform:scaleX(1.1134)">15m</div>
<div class="t" id="t16" style="left:450.37px;top:74px;font-size:13.5px;line-height:16px;font-weight:400;color:#858589;transform:scaleX(1.2525)">30m</div>
<div class="t" id="t17" style="left:550.02px;top:74px;font-size:13.5px;line-height:16px;font-weight:400;color:#858589;transform:scaleX(0.9811)">1h</div>
<div class="t" id="t18" style="left:630.69px;top:74px;font-size:13.5px;line-height:16px;font-weight:400;color:#858589;transform:scaleX(1.2429)">4h</div>
<div class="t" id="t19" style="left:796.96px;top:74px;font-size:13.5px;line-height:16px;font-weight:400;color:#858589;transform:scaleX(1.0390)">1W</div>
<div class="t" id="t20" style="left:888.25px;top:74px;font-size:13.5px;line-height:16px;font-weight:400;color:#858589;transform:scaleX(1.0424)">1M</div>
<div class="t" id="t21" style="left:711.22px;top:72px;font-size:17.5px;line-height:21px;font-weight:700;color:#111b3b;transform:scaleX(1.0732)">1D</div>
<div class="t" id="t22" style="left:954.12px;top:133px;font-size:12.8px;line-height:15px;font-weight:700;color:#111b3b;transform:scaleX(1.2378)">MA</div>
<div class="t" id="t23" style="left:949.58px;top:176px;font-size:12.8px;line-height:15px;font-weight:400;color:#4a5268;transform:scaleX(1.2000)">EMA</div>
<div class="t" id="t24" style="left:946.78px;top:220px;font-size:12.8px;line-height:15px;font-weight:400;color:#4a5268;transform:scaleX(1.2160)">BOLL</div>
<div class="t" id="t25" style="left:951.66px;top:262px;font-size:12.8px;line-height:15px;font-weight:400;color:#4a5268;transform:scaleX(1.1200)">SAR</div>
<div class="t" id="t26" style="left:952.65px;top:306px;font-size:12.8px;line-height:15px;font-weight:400;color:#4a5268;transform:scaleX(1.3514)">BBI</div>
<div class="t" id="t27" style="left:951.14px;top:348px;font-size:12.8px;line-height:15px;font-weight:700;color:#111b3b;transform:scaleX(1.1767)">VOL</div>
<div class="t" id="t28" style="left:943.65px;top:391px;font-size:12.8px;line-height:15px;font-weight:400;color:#4a5268;transform:scaleX(1.2055)">MACD</div>
<div class="t" id="t29" style="left:952.09px;top:434px;font-size:12.8px;line-height:15px;font-weight:400;color:#4a5268;transform:scaleX(1.1910)">KDJ</div>
<div class="t" id="t30" style="left:86.39px;top:126px;font-size:10.8px;line-height:13px;font-weight:400;color:#E9C867;transform:scaleX(0.9578)">MA5:1.15665</div>
<div class="t" id="t31" style="left:153.38px;top:126px;font-size:10.8px;line-height:13px;font-weight:400;color:#C9605C;transform:scaleX(0.9702)">MA10:1.15480</div>
<div class="t" id="t32" style="left:226.57px;top:126px;font-size:10.8px;line-height:13px;font-weight:400;color:#A868DC;transform:scaleX(0.9812)">MA20:1.15683</div>
<div class="t" id="t33" style="left:888.28px;top:126px;font-size:10.8px;line-height:13px;font-weight:400;color:#7b7b80;transform:scaleX(0.9563)">1.21430</div>
<div class="t" id="t34" style="left:888.29px;top:180px;font-size:10.8px;line-height:13px;font-weight:400;color:#7b7b80;transform:scaleX(0.9500)">1.19444</div>
<div class="t" id="t35" style="left:888.28px;top:234px;font-size:10.8px;line-height:13px;font-weight:400;color:#7b7b80;transform:scaleX(0.9563)">1.17457</div>
<div class="t" id="t36" style="left:888.28px;top:287px;font-size:10.8px;line-height:13px;font-weight:400;color:#7b7b80;transform:scaleX(0.9563)">1.15470</div>
<div class="t" id="t37" style="left:888.29px;top:340px;font-size:10.8px;line-height:13px;font-weight:400;color:#7b7b80;transform:scaleX(0.9500)">1.13484</div>
<div class="t" id="t38" style="left:852.35px;top:391px;font-size:10.8px;line-height:13px;font-weight:400;color:#7b7b80;transform:scaleX(1.0642)">178279.00000</div>
<div class="t" id="t39" style="left:881.29px;top:440px;font-size:10.8px;line-height:13px;font-weight:400;color:#7b7b80;transform:scaleX(1.1373)">0.00000</div>
<div class="t" id="t40" style="left:63.37px;top:359px;font-size:10.8px;line-height:13px;font-weight:400;color:#4d5364;transform:scaleX(1.0857);clip-path:inset(0 0 0 7.76px)">02/01</div>
<div class="t" id="t41" style="left:141.26px;top:359px;font-size:10.8px;line-height:13px;font-weight:400;color:#4d5364;transform:scaleX(0.9903)">12/01</div>
<div class="t" id="t42" style="left:216.83px;top:359px;font-size:10.8px;line-height:13px;font-weight:400;color:#4d5364;transform:scaleX(1.0423)">20/01</div>
<div class="t" id="t43" style="left:292.77px;top:359px;font-size:10.8px;line-height:13px;font-weight:400;color:#4d5364;transform:scaleX(1.0563)">28/01</div>
<div class="t" id="t44" style="left:368.30px;top:359px;font-size:10.8px;line-height:13px;font-weight:400;color:#4d5364;transform:scaleX(1.1038)">05/02</div>
<div class="t" id="t45" style="left:445.75px;top:359px;font-size:10.8px;line-height:13px;font-weight:400;color:#4d5364;transform:scaleX(1.0058)">13/02</div>
<div class="t" id="t46" style="left:520.74px;top:359px;font-size:10.8px;line-height:13px;font-weight:400;color:#4d5364;transform:scaleX(1.1029)">23/02</div>
<div class="t" id="t47" style="left:596.43px;top:359px;font-size:10.8px;line-height:13px;font-weight:400;color:#4d5364;transform:scaleX(1.1423)">03/03</div>
<div class="t" id="t48" style="left:674.92px;top:359px;font-size:10.8px;line-height:13px;font-weight:400;color:#4d5364;transform:scaleX(0.9760)">11/03</div>
<div class="t" id="t49" style="left:750.55px;top:359px;font-size:10.8px;line-height:13px;font-weight:400;color:#4d5364;transform:scaleX(1.0058)">19/03</div>
<div class="t" id="t50" style="left:825.39px;top:359px;font-size:10.8px;line-height:13px;font-weight:400;color:#4d5364;transform:scaleX(1.0885)">27/03</div>
<div class="t" id="t51" style="left:87.00px;top:383px;font-size:10.8px;line-height:13px;font-weight:400;color:#1e2742;transform:scaleX(1.0728);-webkit-text-stroke:0.15px #1e2742">VOL:28889.00000</div>
<div class="t" id="t52" style="left:186.63px;top:383px;font-size:10.8px;line-height:13px;font-weight:400;color:#E9C867;transform:scaleX(1.0736)">MA5:90737.00000</div>
<div class="t" id="t53" style="left:287.94px;top:383px;font-size:10.8px;line-height:13px;font-weight:400;color:#C9605C;transform:scaleX(1.0609)">MA10:95026.00000</div>
<div class="t" id="t54" style="left:317.26px;top:151px;font-size:10.3px;line-height:12px;font-weight:400;color:#1c2542;transform:scaleX(0.9821);-webkit-text-stroke:0.3px #1c2542">1.20813</div>
<div class="t" id="t55" style="left:737.06px;top:321px;font-size:10.3px;line-height:12px;font-weight:400;color:#1c2542;transform:scaleX(0.8276);-webkit-text-stroke:0.3px #1c2542">1.14101</div>
</body></html>
